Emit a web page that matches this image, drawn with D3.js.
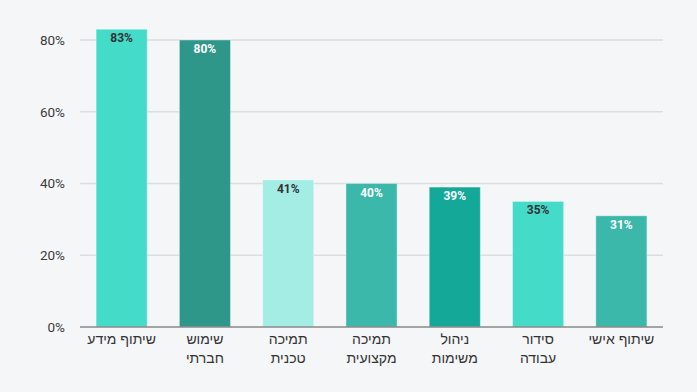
<!DOCTYPE html>
<html><head><meta charset="utf-8">
<script src="https://cdn.jsdelivr.net/npm/d3@7"></script>
<style>html,body{margin:0;padding:0;background:#f5f6f8;}</style>
</head><body>
<svg id="c" width="697" height="392"></svg>
<script>
const categories = ["שיתוף מידע", "שימוש חברתי", "תמיכה טכנית", "תמיכה מקצועית", "ניהול משימות", "סידור עבודה", "שיתוף אישי"];
const labelLines = [["שיתוף מידע"], ["שימוש", "חברתי"], ["תמיכה", "טכנית"], ["תמיכה", "מקצועית"], ["ניהול", "משימות"], ["סידור", "עבודה"], ["שיתוף אישי"]];
const values = [83, 80, 41, 40, 39, 35, 31];
const colors = ["#44dbc9", "#2e978a", "#a3ede4", "#3bb8aa", "#14a898", "#44dbc9", "#3bb8aa"];
const labelColors = ["#333", "#fff", "#333", "#fff", "#fff", "#333", "#fff"];
const yTicks = [0, 20, 40, 60, 80];

const svg = d3.select("#c");
const x = d3.scaleBand().domain(categories).range([80, 663]).paddingInner(0.375).paddingOuter(0.1875);
const y = d3.scaleLinear().domain([0, 80]).range([327, 40]);

// gridlines
svg.append("g").selectAll("line").data(yTicks.filter(d => d > 0)).join("line")
  .attr("x1", 80).attr("x2", 663)
  .attr("y1", d => y(d)).attr("y2", d => y(d))
  .attr("stroke", "#dcdde0").attr("stroke-width", 1.5);

// y tick labels
svg.append("g").selectAll("text").data(yTicks).join("text")
  .attr("x", 65).attr("y", d => y(d)).attr("dy", "0.36em")
  .attr("text-anchor", "end")
  .attr("font-family", "Roboto, 'Liberation Sans', sans-serif")
  .attr("font-size", 13.5).attr("fill", "#3a3a3a")
  .text(d => d + "%");

// bars
svg.append("g").selectAll("rect").data(categories).join("rect")
  .attr("x", d => x(d) + 0.5)
  .attr("y", (d, i) => y(values[i]))
  .attr("width", x.bandwidth() - 1)
  .attr("height", (d, i) => y(0) - y(values[i]))
  .attr("fill", (d, i) => colors[i])
  .attr("stroke", "rgba(255,255,255,0.35)").attr("stroke-width", 1);

// value labels
svg.append("g").selectAll("text").data(categories).join("text")
  .attr("x", d => x(d) + x.bandwidth() / 2)
  .attr("y", (d, i) => y(values[i]) + 13)
  .attr("text-anchor", "middle")
  .attr("font-family", "Roboto, 'Liberation Sans', sans-serif")
  .attr("font-weight", "bold").attr("font-size", 12)
  .attr("fill", (d, i) => labelColors[i])
  .text((d, i) => values[i] + "%");

// baseline
svg.append("line").attr("x1", 80).attr("x2", 663)
  .attr("y1", y(0)).attr("y2", y(0))
  .attr("stroke", "#888").attr("stroke-width", 1.5);

// x labels
const xl = svg.append("g").selectAll("text").data(categories).join("text")
  .attr("text-anchor", "middle")
  .attr("font-family", "'Liberation Sans', Arial, sans-serif")
  .attr("font-size", 14).attr("fill", "#333")
  .attr("direction", "rtl");
xl.each(function(d, i) {
  const t = d3.select(this);
  labelLines[i].forEach((ln, j) => {
    t.append("tspan").attr("x", x(d) + x.bandwidth() / 2).attr("y", 344 + j * 19).text(ln);
  });
});
</script>
</body></html>
